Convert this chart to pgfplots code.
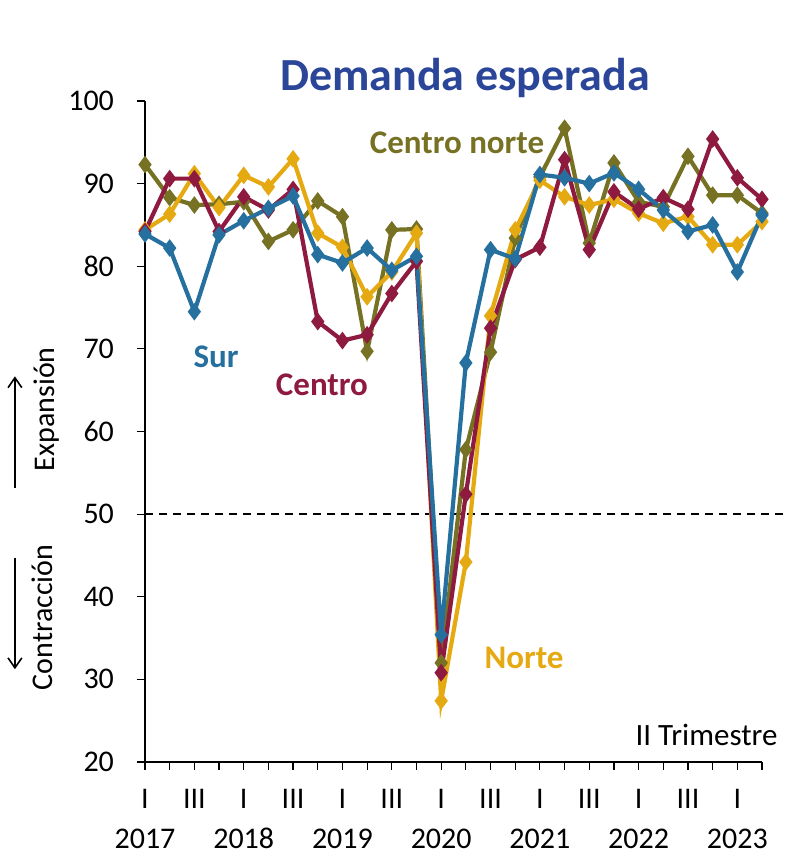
\documentclass[border=0pt]{standalone}
\usepackage{pgfplots}
\pgfplotsset{compat=1.18}
\usepackage{fontspec}
\setmainfont{Carlito}
\definecolor{cnorte}{RGB}{118,113,35}
\definecolor{norte}{RGB}{229,169,18}
\definecolor{centro}{RGB}{142,26,64}
\definecolor{sur}{RGB}{37,112,159}
\definecolor{titcol}{RGB}{43,69,152}
\begin{document}
\begin{tikzpicture}
\begin{axis}[
  scale only axis,
  width=308.5pt, height=330.5pt,
  xmin=0, xmax=25, ymin=20, ymax=100,
  clip=false,
  axis x line*=bottom, axis y line*=left,
  axis line style={line width=0.8pt},
  tick align=outside,
  major tick length=4pt,
  tick style={line width=0.6pt, black},
  ytick={20,30,40,50,60,70,80,90,100},
  xtick={0,...,25},
  xticklabels={I\\2017,,III,,I\\2018,,III,,I\\2019,,III,,I\\2020,,III,,I\\2021,,III,,I\\2022,,III,,I\\2023,},
  xticklabel style={align=center, font=\fontsize{15}{20}\selectfont, yshift=-6pt},
  yticklabel style={font=\fontsize{15}{18}\selectfont, xshift=-8pt},
  /pgf/number format/assume math mode=true,
  every axis plot/.append style={line width=2.1pt, mark=diamond*, mark size=2.7pt},
]
\draw[dash pattern=on 4pt off 3pt, line width=0.7pt] (axis cs:0,50) -- (axis cs:26,50);
\addplot[color=cnorte, mark options={fill=cnorte}] coordinates {
(0,92.3)(1,88.3)(2,87.4)(3,87.5)(4,87.8)(5,83.0)(6,84.4)(7,87.9)(8,86.0)(9,69.7)(10,84.4)(11,84.5)(12,32.0)(13,57.8)(14,69.6)(15,83.4)(16,90.8)(17,96.7)(18,82.8)(19,92.5)(20,87.8)(21,87.2)(22,93.3)(23,88.6)(24,88.6)(25,86.4)};
\addplot[color=norte, mark options={fill=norte}] coordinates {
(0,84.4)(1,86.3)(2,91.2)(3,87.1)(4,91.0)(5,89.6)(6,93.0)(7,84.0)(8,82.3)(9,76.3)(10,79.3)(11,84.0)(12,27.4)(13,44.2)(14,74.0)(15,84.4)(16,90.4)(17,88.4)(18,87.4)(19,88.1)(20,86.4)(21,85.2)(22,86.0)(23,82.6)(24,82.6)(25,85.4)};
\addplot[color=centro, mark options={fill=centro}] coordinates {
(0,84.2)(1,90.6)(2,90.6)(3,84.2)(4,88.4)(5,86.8)(6,89.3)(7,73.3)(8,71.0)(9,71.7)(10,76.7)(11,80.6)(12,30.8)(13,52.4)(14,72.5)(15,80.8)(16,82.3)(17,92.9)(18,82.0)(19,89.0)(20,86.9)(21,88.3)(22,86.9)(23,95.4)(24,90.7)(25,88.1)};
\addplot[color=sur, mark options={fill=sur}] coordinates {
(0,83.9)(1,82.2)(2,74.5)(3,83.8)(4,85.5)(5,87.0)(6,88.5)(7,81.4)(8,80.4)(9,82.2)(10,79.5)(11,81.2)(12,35.4)(13,68.3)(14,82.0)(15,80.9)(16,91.1)(17,90.7)(18,90.0)(19,91.3)(20,89.3)(21,86.8)(22,84.2)(23,85.0)(24,79.3)(25,86.2)};
\node[font=\fontsize{23}{26}\selectfont\bfseries, text=titcol] at (axis cs:12.97,102.8) {Demanda esperada};
\node[font=\fontsize{16.5}{19}\selectfont\bfseries, text=cnorte] at (axis cs:12.64,94.9) {Centro norte};
\node[font=\fontsize{16.5}{19}\selectfont\bfseries, text=sur] at (axis cs:2.88,69.0) {Sur};
\node[font=\fontsize{16.5}{19}\selectfont\bfseries, text=centro] at (axis cs:7.17,65.6) {Centro};
\node[font=\fontsize{16.5}{19}\selectfont\bfseries, text=norte] at (axis cs:15.36,32.6) {Norte};
\node[font=\fontsize{15.5}{18}\selectfont] at (axis cs:22.75,23.3) {II Trimestre};
\node[font=\fontsize{15}{18}\selectfont, rotate=90] at (axis cs:-3.97,62.7) {Expansión};
\node[font=\fontsize{15}{18}\selectfont, rotate=90] at (axis cs:-4.17,37.5) {Contracción};
\draw[line width=0.8pt] (axis cs:-5.27,53.2) -- (axis cs:-5.27,66.5);
\draw[line width=0.8pt, line join=miter] (axis cs:-5.55,65.3) -- (axis cs:-5.27,66.5) -- (axis cs:-4.99,65.3);
\draw[line width=0.8pt] (axis cs:-5.27,44.7) -- (axis cs:-5.27,31.4);
\draw[line width=0.8pt, line join=miter] (axis cs:-5.55,32.6) -- (axis cs:-5.27,31.4) -- (axis cs:-4.99,32.6);
\path (axis cs:-5.875,8.38) rectangle (axis cs:25.97,112.22);
\end{axis}
\end{tikzpicture}
\end{document}
